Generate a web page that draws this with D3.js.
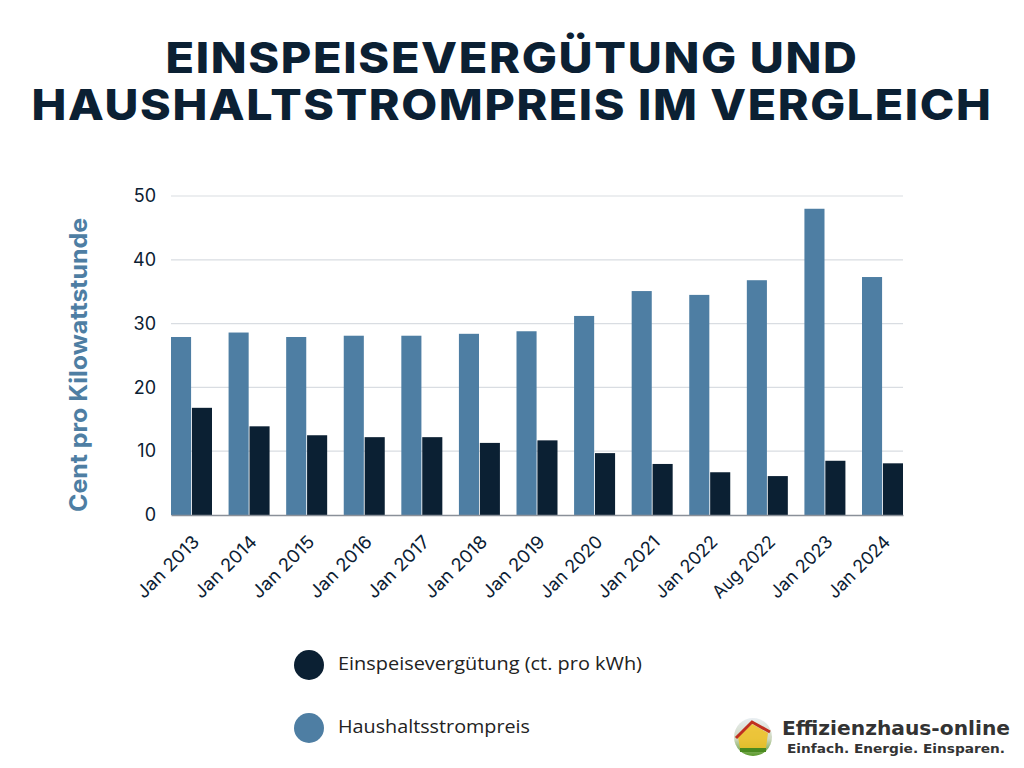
<!DOCTYPE html>
<html><head><meta charset="utf-8">
<script src="https://cdn.jsdelivr.net/npm/d3@7"></script>
<style>body{margin:0;background:#fff}svg{display:block}</style>
</head><body>
<svg id="c" width="1024" height="768"></svg>
<script>
const categories = ["Jan 2013","Jan 2014","Jan 2015","Jan 2016","Jan 2017","Jan 2018","Jan 2019","Jan 2020","Jan 2021","Jan 2022","Aug 2022","Jan 2023","Jan 2024"];
const haushaltsstrompreis = [27.9,28.6,27.9,28.1,28.1,28.4,28.8,31.2,35.1,34.5,36.8,48.0,37.3];
const einspeiseverguetung = [16.8,13.9,12.5,12.2,12.2,11.3,11.7,9.7,8.0,6.7,6.1,8.5,8.1];
const yTicks = [0,10,20,30,40,50];
const seriesNames = ["Einspeisevergütung (ct. pro kWh)","Haushaltsstrompreis"];
const titleLines = ["EINSPEISEVERGÜTUNG UND","HAUSHALTSTROMPREIS IM VERGLEICH"];
const yTitle = "Cent pro Kilowattstunde";

const BLUE = "#4e7ea3", DARK = "#0b2033";
const svg = d3.select("#c");
const m = {l:171, r:903, t:196, b:515};

const x = d3.scaleBand().domain(categories).range([m.l,m.r]).paddingInner(0.288).paddingOuter(0);
const x1 = d3.scaleBand().domain(["h","e"]).range([0,x.bandwidth()]).paddingInner(0.04);
const y = d3.scaleLinear().domain([0,50]).range([m.b,m.t]);

// title (one text, two lines)
const title = svg.append("text").attr("text-anchor","middle")
  .attr("font-family","Inter, 'Open Sans', sans-serif").attr("font-weight",800)
  .attr("font-size",43).attr("fill",DARK).attr("letter-spacing",1.5);
title.selectAll("tspan").data(titleLines).join("tspan")
  .attr("x",512).attr("y",(d,i)=>73+i*47)
  .attr("textLength",(d,i)=>i===0?693:961).attr("lengthAdjust","spacingAndGlyphs")
  .text(d=>d);

// gridlines
svg.append("g").selectAll("line").data(yTicks.filter(t=>t>0)).join("line")
  .attr("x1",m.l).attr("x2",m.r).attr("y1",d=>y(d)).attr("y2",d=>y(d))
  .attr("stroke","#d9dde2").attr("stroke-width",1.2);

// y axis labels
const yAxis = svg.append("g").attr("transform",`translate(${m.l},0)`)
  .call(d3.axisLeft(y).tickValues(yTicks).tickSize(0).tickPadding(15));
yAxis.select(".domain").remove();
yAxis.selectAll("text").attr("font-family","Inter, sans-serif").attr("font-size",18).attr("fill",DARK);

// bars
const g = svg.append("g");
categories.forEach((c,i)=>{
  g.append("rect").attr("x",x(c)+x1("h")).attr("y",y(haushaltsstrompreis[i]))
    .attr("width",x1.bandwidth()).attr("height",y(0)-y(haushaltsstrompreis[i])).attr("fill",BLUE);
  g.append("rect").attr("x",x(c)+x1("e")).attr("y",y(einspeiseverguetung[i]))
    .attr("width",x1.bandwidth()).attr("height",y(0)-y(einspeiseverguetung[i])).attr("fill",DARK);
});

// x axis
const xAxis = svg.append("g").attr("transform",`translate(0,${m.b})`)
  .call(d3.axisBottom(x).tickSize(0).tickPadding(0));
xAxis.select(".domain").attr("stroke","#8a9099").attr("stroke-width",1.5);
xAxis.selectAll("text").attr("font-family","Inter, sans-serif").attr("font-size",18).attr("fill",DARK)
  .attr("text-anchor","end").attr("x",0).attr("y",0).attr("dy",0)
  .attr("textLength",80).attr("lengthAdjust","spacingAndGlyphs")
  .attr("transform","translate(9,28) rotate(-45)");

// y title
svg.append("text").attr("transform","translate(87,365) rotate(-90)").attr("text-anchor","middle")
  .attr("font-family","Inter, sans-serif").attr("font-weight",700).attr("font-size",24)
  .attr("fill",BLUE).attr("textLength",294).attr("lengthAdjust","spacingAndGlyphs").text(yTitle);

// legend
const leg = svg.append("g");
[[DARK,665,670,304],[BLUE,728,733,192]].forEach((d,i)=>{
  leg.append("circle").attr("cx",309).attr("cy",d[1]).attr("r",15).attr("fill",d[0]);
  leg.append("text").attr("x",338).attr("y",d[2]).attr("font-family","'Open Sans', sans-serif")
    .attr("font-size",19).attr("fill","#222").attr("textLength",d[3]).attr("lengthAdjust","spacingAndGlyphs").text(seriesNames[i]);
});

// logo
const lg = svg.append("g");
const defs = svg.append("defs");
const grad = defs.append("linearGradient").attr("id","lg").attr("x1",0).attr("y1",0).attr("x2",0).attr("y2",1);
grad.append("stop").attr("offset","0%").attr("stop-color","#e9eef2");
grad.append("stop").attr("offset","55%").attr("stop-color","#cfd8c0");
grad.append("stop").attr("offset","100%").attr("stop-color","#5a9a2a");
lg.append("circle").attr("cx",753).attr("cy",737).attr("r",19).attr("fill","url(#lg)");
lg.append("path").attr("d","M738,737 L752,724 L768,733 L766,748 L740,748 Z").attr("fill","#f0c020").attr("opacity",0.85);
lg.append("path").attr("d","M736,738 L752,722 L770,732").attr("fill","none").attr("stroke","#c03020").attr("stroke-width",3);
lg.append("path").attr("d","M740,750 L766,750").attr("stroke","#4a8a20").attr("stroke-width",4);
lg.append("text").attr("x",782).attr("y",735).attr("font-family","'DejaVu Sans', sans-serif").attr("font-weight",700)
  .attr("font-size",20).attr("fill","#333").attr("textLength",228).attr("lengthAdjust","spacingAndGlyphs").text("Effizienzhaus-online");
lg.append("text").attr("x",787).attr("y",753).attr("font-family","'DejaVu Sans', sans-serif").attr("font-weight",700)
  .attr("font-size",13).attr("fill","#333").attr("textLength",218).attr("lengthAdjust","spacingAndGlyphs").text("Einfach. Energie. Einsparen.");
</script>
</body></html>
